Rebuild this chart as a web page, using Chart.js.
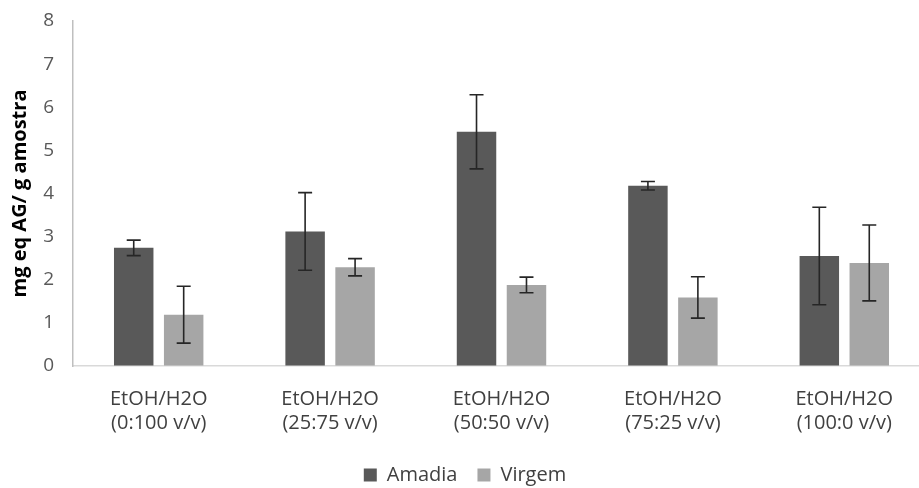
<!DOCTYPE html>
<html><head><meta charset="utf-8">
<script src="https://cdn.jsdelivr.net/npm/chart.js@4.4.1/dist/chart.umd.min.js"></script>
<style>
html,body{margin:0;padding:0;background:#fff;overflow:hidden;}
#wrap{width:942px;height:495px;position:relative;}
</style></head><body>
<div id="wrap"><canvas id="c"></canvas></div>
<script>
const categories = [["EtOH/H2O","(0:100 v/v)"],["EtOH/H2O","(25:75 v/v)"],["EtOH/H2O","(50:50 v/v)"],["EtOH/H2O","(75:25 v/v)"],["EtOH/H2O","(100:0 v/v)"]];
const amadia = [2.74, 3.12, 5.43, 4.18, 2.55];
const amadiaErr = [0.18, 0.90, 0.86, 0.10, 1.13];
const virgem = [1.19, 2.29, 1.88, 1.59, 2.39];
const virgemErr = [0.66, 0.20, 0.18, 0.48, 0.88];
const yTicks = [0,1,2,3,4,5,6,7,8];

const errorBars = {
  id: 'errorBars',
  afterDatasetsDraw(chart) {
    const ctx = chart.ctx, ys = chart.scales.y;
    chart.data.datasets.forEach((ds, i) => {
      const meta = chart.getDatasetMeta(i);
      meta.data.forEach((el, j) => {
        const v = ds.data[j], e = ds.errors[j];
        const top = ys.getPixelForValue(v + e), bot = ys.getPixelForValue(v - e);
        ctx.save();
        ctx.strokeStyle = '#262626';
        ctx.lineWidth = 1.6;
        ctx.beginPath();
        ctx.moveTo(el.x, top); ctx.lineTo(el.x, bot);
        ctx.moveTo(el.x - 7, top); ctx.lineTo(el.x + 7, top);
        ctx.moveTo(el.x - 7, bot); ctx.lineTo(el.x + 7, bot);
        ctx.stroke();
        ctx.restore();
      });
    });
  }
};

new Chart(document.getElementById('c'), {
  type: 'bar',
  data: {
    labels: categories,
    datasets: [
      {label: 'Amadia', data: amadia, errors: amadiaErr, backgroundColor: '#595959', categoryPercentage: 0.583, barPercentage: 0.79},
      {label: 'Virgem', data: virgem, errors: virgemErr, backgroundColor: '#a6a6a6', categoryPercentage: 0.583, barPercentage: 0.79}
    ]
  },
  options: {
    responsive: true,
    maintainAspectRatio: false,
    animation: false,
    layout: {padding: {top: 21, right: 12, left: 0, bottom: 0}},
    plugins: {
      legend: {
        position: 'bottom',
        labels: {boxWidth: 13, boxHeight: 13, color: '#404040', font: {family: 'Open Sans', size: 20}, padding: 20}
      },
      tooltip: {enabled: false}
    },
    scales: {
      x: {
        afterFit(s) { s.height = 79; },
        grid: {display: false, drawTicks: false},
        border: {color: '#d9d9d9', width: 1.5},
        ticks: {color: '#404040', font: {family: 'Open Sans', size: 20}, padding: 21, maxRotation: 0}
      },
      y: {
        min: 0, max: 8,
        afterBuildTicks(s) { s.ticks = yTicks.map(v => ({value: v})); },
        afterFit(s) { s.width = 73; },
        grid: {display: true, drawOnChartArea: false, drawTicks: true, tickLength: 19, color: 'rgba(0,0,0,0)'},
        border: {color: '#bfbfbf', width: 1.5},
        ticks: {color: '#595959', font: {family: 'Open Sans', size: 19}, padding: 0},
        title: {display: true, text: 'mg eq AG/ g amostra', color: '#000', font: {family: 'Open Sans', size: 20, weight: 'bold'}, padding: {top: 8, bottom: 0}}
      }
    }
  },
  plugins: [errorBars]
});
</script>
</body></html>
